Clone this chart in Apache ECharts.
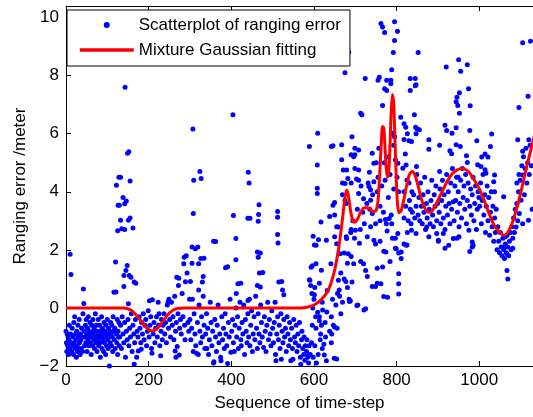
<!DOCTYPE html>
<html>
<head>
<meta charset="utf-8">
<script src="https://cdn.jsdelivr.net/npm/echarts@6/dist/echarts.min.js"></script>
<style>
  html, body { margin: 0; padding: 0; background: #fff; }
  #chart { width: 533px; height: 417px; }
</style>
</head>
<body>
<div id="chart"></div>
<script>
// ranging error samples, [time-step, error in meter]
const errEarly = [
  [0,-0.8],[1,-1.2],[2,-1.5],[3,-0.9],[4,-1.3],[5,-1.0],[6,-1.6],[7,-1.1],[8,-0.6],[9,-1.4],[10,1.85],[11,-0.9],
  [12,1.15],[13,-1.2],[14,-1.5],[15,-0.7],[16,-1.3],[17,-1.0],[18,-1.6],[19,-0.5],[20,-1.2],[21,-0.3],[22,-1.4],
  [23,-0.9],[24,-1.1],[25,-1.7],[26,-0.8],[27,-1.3],[28,-1.5],[29,-0.6],[30,-1.0],[31,-1.4],[32,-0.4],[33,-1.2],
  [34,-1.6],[35,-0.9],[36,-1.1],[37,-1.4],[38,-0.7],[39,-1.0],[40,-1.5],[41,-0.2],[42,0.65],[43,0.15],[44,-0.8],
  [45,-1.3],[46,-1.0],[47,-0.6],[48,-1.2],[49,-0.4],[50,-0.9],[51,-1.5],[52,-0.7],[53,-1.1],[54,-0.3],[55,-1.3],
  [56,-0.8],[57,-1.0],[58,-0.5],[59,-1.2],[60,-0.9],[61,-1.6],[62,-0.6],[63,-1.0],[64,-1.3],[65,-0.4],[66,-0.8],
  [67,-1.1],[68,-0.7],[69,-1.4],[70,-0.9],[71,-0.2],[72,-1.2],[73,-0.6],[74,-1.0],[75,-1.5],[76,-0.8],[77,-1.1],
  [78,-0.4],[79,-1.3],[80,-0.9],[81,-0.6],[82,-1.2],[83,-1.7],[84,-0.8],[85,-1.0],[86,-0.3],[87,-1.4],[88,-0.7],
  [89,-1.1],[90,-0.9],[91,-1.5],[92,-0.5],[93,-1.2],[94,-0.8],[95,-1.0],[96,-1.6],[97,-0.6],[98,-1.3],[99,-0.9],
  [100,-0.4],[101,-1.1],[102,-1.4],[103,-0.7],[104,-1.0],[105,-2.0],[106,-0.8],[107,-1.2],[108,-0.5],[109,-0.9],
  [110,-1.3],[111,-0.6],[112,-1.0],[113,-1.5],[114,-0.3],[115,-0.8],[116,0.54],[117,-1.1],[118,-0.7],[119,-1.4],
  [120,1.58],[121,0.55],[122,-0.9],[123,-1.2],[124,-0.4],[125,-1.6],[126,-0.8],[127,-1.0],[128,-0.5],[129,-1.3]
];

const errSpikes = [
  [122,4.23],[126,3.54],[125,2.66],[128,4.5],[129,3.54],[132,4.5],[132,3.02],[135,2.73],[138,3.8],[140,1.12],
  [140,0.74],[143,7.6],[142,3.59],[142,2.7],[145,1.29],[146,3.68],[148,1.46],[149,5.33],[151,3.02],[152,5.38],
  [153,1.12],[155,3.1],[155,4.37],[157,1.06],[162,2.75],[165,0.89],[151,0.14]
];

const errDip = [
  [130,-1.0],[132,-0.6],[134,-1.4],[136,-0.3],[138,-0.9],[140,-1.2],[142,-0.5],[144,-1.7],[146,-0.8],[148,-1.1],
  [150,-0.4],[152,-1.3],[154,-0.7],[156,-1.0],[158,-0.2],[160,-1.5],[162,-0.6],[164,-0.9],[165,-1.94],[166,-1.2],
  [168,-0.4],[169,0.85],[171,-1.7],[172,-0.8],[174,-1.0],[175,-1.48],[177,-0.3],[179,-0.7],[181,-1.2],[182,-1.42],
  [183,-0.5],[185,-0.9],[187,-0.2],[189,-1.1],[191,-0.6],[193,-0.4],[195,-1.3],[197,-0.8],[199,-0.1],[201,-1.0],
  [202,0.25],[203,-0.6],[205,-0.3],[207,-1.4],[208,-1.56],[209,0.28],[211,-0.9],[213,-0.5],[215,-1.2],[217,-0.7],
  [219,-0.3],[221,-1.0],[223,0.2],[224,-0.6],[225,-0.2],[227,-1.3],[229,-1.65],[230,-0.8],[231,-0.4],[233,-1.1],
  [235,-0.6],[237,-0.2],[239,-0.9],[241,-0.5],[243,-1.2],[245,0.1],[247,0.2],[248,-0.7],[249,0.3],[251,-0.4],
  [253,-1.0],[255,0.2],[257,-0.6],[259,-0.3],[261,-1.1],[263,0.4],[264,-1.48],[265,-0.8],[266,-1.7],[267,-0.5],
  [268,1.06],[269,-1.33],[271,-0.2],[272,0.77],[273,1.02],[274,-1.62],[275,-0.7],[277,-0.4],[279,-0.9],[281,0.5],
  [283,-0.3],[285,1.52],[286,1.75],[287,-0.6],[288,-1.1],[289,0.9],[291,1.8],[293,1.2],[295,-0.5],[297,-0.8],[299,0.3]
];

const errFlat = [
  [301,0.91],[305,2.1],[305,1.54],[307,6.16],[308,3.25],[309,4.4],[313,2.04],[319,2.1],[321,1.52],[321,0.62],
  [324,4.7],[326,1.7],[327,4.46],[330,0.89],[332,1.08],[334,1.71],[357,2.3],[362,2.29],[386,1.38],[391,1.42],
  [405,3.18],[404,6.65],[411,2.39],[411,1.66],[416,0.83],[423,0.85],[441,4.67],[443,4.3],[440,3.09],[445,3.09],
  [467,3.55],[466,3.22],[465,2.99],[463,1.93],[465,1.75],[468,1.2],[463,0.77],[470,1.89],[470,0.72],[476,1.22],
  [512,3.32],[512,3.12],[512,2.53],[513,2.24],[515,0.89],[522,0.91],[524,0.62],[527,0.45],[412,0.5],[440,0.26],
  [300,-0.4],[302,-1.1],[304,-0.7],[306,0.3],[308,-1.5],[310,-0.2],[312,-0.9],[314,-1.3],[316,-1.56],[318,-0.5],
  [320,-1.6],[322,0.1],[324,-0.8],[326,-1.2],[328,-0.3],[330,-1.0],[332,0.4],[334,-0.6],[336,-1.4],[338,-0.9],
  [340,-0.2],[341,-1.4],[343,-0.7],[345,-1.6],[347,-1.1],[349,0.2],[351,-0.5],[353,-1.3],[355,-0.8],[357,-1.9],
  [358,-1.85],[360,-0.4],[362,-1.0],[364,-1.5],[366,-0.6],[368,0.1],[370,-1.2],[372,-0.9],[374,-1.7],[375,-1.82],
  [377,-0.3],[379,-1.1],[381,-0.7],[383,-1.4],[385,-0.2],[387,-0.9],[389,-1.3],[391,-1.91],[393,-0.5],[395,-1.0],
  [397,0.3],[399,-1.53],[401,-0.8],[403,-0.4],[405,-1.2],[407,-1.5],[409,-0.6],[411,0.0],[413,-1.0],[415,-0.3],
  [417,-1.4],[419,-0.7],[421,0.2],[423,-1.1],[424,-1.3],[426,-0.5],[428,-0.9],[430,0.1],[432,-1.6],[434,-0.4],
  [436,-0.8],[438,-1.2],[440,-0.2],[442,-1.0],[444,0.3],[445,-1.3],[447,-0.6],[449,-0.1],[451,-1.5],[453,-0.9],
  [455,-0.3],[457,-1.1],[459,0.4],[461,-0.7],[463,-1.4],[465,-0.2],[467,-0.9],[469,-1.2],[471,0.1],[473,-0.5],
  [475,-1.0],[478,-1.36],[480,-0.3],[482,-0.8],[484,-1.5],[486,-0.6],[488,0.2],[490,-1.1],[492,-0.4],[494,-0.9],
  [496,-1.3],[498,-0.1],[500,-0.7],[502,-1.2],[504,-0.5],[506,0.2],[507,-1.6],[508,-1.82],[510,-0.9],[512,-0.3],
  [514,-1.1],[516,-0.6],[518,-1.4],[520,-0.2],[521,-1.77],[523,-0.8],[525,-1.2],[527,-0.4],[529,-1.0],[531,-0.7],
  [533,-1.5],[535,-0.3],[537,-0.9],[539,-1.3],[541,-0.5],[543,-1.1],[544,-1.82],[546,-0.7],[548,-1.4],[549,-1.77],
  [551,-0.4],[553,-1.0],[555,-1.2],[557,-0.6],[559,-1.5],[561,-0.9],[563,-1.3],[565,-0.5],[567,-1.7],[568,-1.94],
  [570,-1.1],[571,-0.8],[573,-1.4],[575,-1.6],[576,-1.0],[578,-1.8],[579,-1.3],[581,-2.05],[582,-1.5],[583,-1.1],
  [585,-1.7],[586,-1.62],[587,-1.9],[588,-1.3],[590,-2.02],[591,-1.6]
];

const errRise = [
  [589,5.56],[590,0.95],[593,1.4],[596,1.45],[605,1.52],[609,6.02],[608,4.92],[608,4.12],[608,3.94],[598,2.47],
  [611,2.35],[605,2.16],[592,0.77],[595,0.5],[589,0.97],[600,0.3],[602,0.7],[597,0.0],[604,-0.3],[609,-0.15],
  [601,0.45],[613,0.85],[613,-0.44],[605,-0.7],[616,-0.9],[617,2.96],[618,1.3],[618,-0.6],[620,0.2],[621,-0.07],
  [613,-0.3],[624,-1.25],[625,-1.62],[627,-0.5],[628,-1.0],[630,2.33],[630,-1.82],[632,0.6],[620,-1.4],[615,-1.1],
  [610,-1.6],[606,-1.9],[602,-1.3],[598,-1.7],[594,-1.2],[596,-0.6],[631,-0.14],[638,-0.8],[641,1.52],[642,5.56],
  [643,-0.9],[645,0.3],[646,3.54],[646,5.59],[647,-0.6],[650,3.2],[650,3.63],[642,-0.3],[642,-1.2],[653,0.1],
  [655,2.21],[655,-1.76],[656,-0.7],[659,2.79],[659,0.95],[649,-1.73],[650,-0.66],[650,2.45],[638,3.15],[662,0.4],
  [663,1.87],[665,-0.2],[667,5.1],[667,5.62],[657,0.5],[669,0.2],[671,4.75],[661,0.62],[673,1.0],[675,4.29],
  [675,3.71],[665,1.2],[669,4.3],[669,3.9],[675,8.1],[679,4.75],[679,2.39],[681,0.7],[684,8.81],[683,1.87],
  [673,1.89],[685,0.3],[677,0.91],[688,0.25],[689,2.6],[681,1.54],[692,5.9],[692,0.89],[694,3.0],[696,5.21],
  [696,1.52],[686,0.22],[698,2.4],[700,2.68],[690,1.77],[690,5.28],[699,5.5],[699,5.28],[699,4.8],[703,4.44],
  [690,4.3],[682,4.46],[678,3.6],[678,2.45],[690,2.7],[655,2.8],[601,2.17],[706,0.1],[704,0.08],[708,5.44],
  [708,4.75],[708,4.4],[708,3.94],[716,6.65],[713,6.71],[710,2.23],[714,4.2],[720,3.76],[720,1.52],[713,1.6],
  [721,-0.07],[725,1.29],[725,-0.03]
];

const errPeak = [
  [724,7.9],[729,1.08],[729,2.45],[731,4.3],[733,4.18],[734,4.67],[737,3.71],[737,4.07],[737,2.8],[741,3.25],
  [741,0.74],[741,5.33],[745,2.33],[745,4.98],[745,4.35],[749,2.2],[749,2.9],[749,0.74],[751,5.0],[753,4.0],
  [753,1.37],[753,0.85],[755,4.5],[755,7.84],[758,7.95],[762,9.8],[766,9.68],[771,9.49],[766,6.97],[771,7.55],
  [776,7.49],[776,7.84],[762,0.83],[766,1.41],[769,0.39],[769,1.95],[773,3.05],[774,1.93],[777,2.65],[778,0.37],
  [782,3.08],[786,7.84],[786,7.72],[788,8.2],[792,8.8],[795,9.86],[795,9.21],[802,9.53],[790,6.02],[795,5.9],
  [793,5.6],[797,5.1],[797,2.4],[797,2.06],[799,2.04],[801,4.5],[803,4.98],[803,2.56],[805,1.89],[805,1.18],
  [805,0.83],[805,0.48],[805,4.0],[810,6.57],[811,1.93],[811,1.7],[815,4.81],[818,6.34],[818,5.8],[822,6.22],
  [818,2.2],[818,3.1],[818,4.0],[821,5.3],[823,4.92],[825,2.17],[826,2.6],[826,6.0],[830,4.3],[830,5.76],
  [833,3.4],[833,7.9],[833,7.49],[837,4.0],[843,6.65],[845,7.9],[846,6.22],[847,7.69],[849,6.17],[852,8.8],
  [760,3.5],[764,4.2],[768,3.3],[772,4.4],[775,2.9],[780,3.8],[784,4.6],[787,3.2],[790,2.4],[793,4.1],
  [780,5.2],[770,5.0],[757,5.5],[760,3.0],[735,3.4],[742,3.9],[728,3.6],[722,2.9],[718,3.3],[712,2.7],
  [705,3.4],[760,2.3],[784,1.6],[788,2.9],[822,3.5],[825,4.4],[828,3.0],[831,3.7],[835,2.9],[838,3.3],
  [841,3.9],[844,3.1],[847,3.5],[849,4.6],[836,5.73],[848,4.87],[823,2.16],[836,2.68],[847,2.56]
];

const errLate = [
  [845,7.65],[855,6.14],[847,6.0],[878,5.79],[878,5.47],[920,8.3],[950,8.55],[955,8.15],[971,8.38],[974,7.55],
  [952,7.41],[946,7.26],[944,7.1],[948,6.97],[978,6.96],[952,6.71],[917,6.29],[921,6.11],[944,6.21],[934,6.02],
  [977,6.11],[904,5.6],[944,5.62],[954,5.56],[929,5.41],[933,5.31],[994,5.76],[1030,5.99],[1027,5.56],[1014,5.3],
  [1006,5.2],[1021,5.2],[969,5.24],[971,5.01],[996,4.93],[1004,4.87],[1014,4.76],[1016,4.64],[1035,4.35],[1037,4.0],
  [1037,4.58],[1059,3.83],[1063,2.45],[1067,1.87],[1067,1.29],[1069,1.0],[1059,2.1],[1093,5.79],[1105,9.13],
  [1096,6.9],[1118,7.29],[1120,5.79],[1096,4.6],[1105,5.4],[1091,4.3],[904,4.7],[949,4.5],[1124,9.19],
  [917,2.06],[901,2.3],[946,2.4],[977,1.94],[985,2.16],[983,2.27],[983,2.1],[926,2.16],[913,2.56],[951,2.45],
  [937,2.39],[1081,2.06],[1105,2.9],[897,2.56],[901,2.33],[878,2.45],[873,2.79],
  [852,3.2],[854,3.8],[856,3.0],[858,4.3],[860,3.5],[862,2.9],[864,3.9],[866,3.3],[868,4.5],[870,2.7],
  [872,3.6],[874,3.1],[876,4.0],[879,3.4],[881,2.9],[883,3.7],[885,4.4],[887,3.2],[889,2.8],[891,3.9],
  [893,3.5],[895,4.2],[897,3.0],[899,3.6],[903,3.3],[905,4.1],[907,2.9],[909,3.7],[911,4.4],[913,3.1],
  [915,3.9],[917,2.7],[919,3.5],[921,4.6],[923,3.2],[925,4.0],[927,3.6],[929,2.9],[931,4.3],[933,3.4],
  [935,4.8],[937,3.66],[939,3.0],[941,4.2],[943,3.7],[945,4.5],[947,3.3],[949,4.0],[951,2.8],[953,3.6],
  [955,4.4],[957,3.1],[959,4.8],[961,3.8],[963,4.2],[965,3.4],[967,4.6],[969,2.9],[971,3.7],[973,4.3],
  [975,2.68],[977,3.5],[979,4.1],[981,3.2],[983,3.9],[985,4.5],[987,3.0],[989,3.6],[991,4.2],[993,2.7],
  [995,3.4],[997,4.0],[999,3.8],[1001,3.5],[1003,4.3],[1005,2.9],[1007,3.7],[1009,4.6],[1011,3.2],[1013,3.9],
  [1015,2.6],[1017,3.5],[1019,4.2],[1021,3.0],[1023,3.8],[1025,2.5],[1027,3.3],[1029,4.0],[1031,2.8],[1033,3.5],
  [1035,2.3],[1037,3.1],[1039,2.6],[1041,3.4],[1043,2.0],[1045,2.8],[1047,2.3],[1049,1.9],[1051,2.6],[1053,2.1],
  [1055,1.8],[1057,2.4],[1059,2.0],[1061,1.7],[1063,2.2],[1065,1.9],[1067,2.5],[1069,2.1],[1071,1.8],[1073,2.3],
  [1075,2.6],[1077,2.0],[1079,2.8],[1081,2.4],[1083,3.1],[1085,2.6],[1087,3.4],[1089,2.79],[1091,3.6],[1093,3.0],
  [1095,4.0],[1097,3.25],[1099,4.4],[1101,3.71],[1103,4.9],[1105,4.58],[1107,5.21],[1109,3.9],[1111,4.8],[1113,5.5],
  [1115,4.3],[1117,5.0],[1119,3.02],[1121,4.6],[1123,5.6],[1126,4.9],[1128,3.4]
];

// mixture gaussian fit curve
const fitStep = [0,140,150,160,170,180,190,200,210,220,230,240,250,260,270,285,570,585,600,615,630,640,650,658,665,670,
  675,679,683,688,693,698,705,713,722,732,742,750,755,759,763,766,769,772,775,778,781,784,787,790,793,796,799,802,806,
  811,817,824,831,838,845,852,860,868,876,884,893,903,915,928,942,958,972,986,1000,1012,1025,1038,1050,1060,1068,1076,
  1084,1092,1100,1108,1116,1124,1132,1140];
const fitValue = [0,0,-0.03,-0.1,-0.25,-0.42,-0.6,-0.74,-0.79,-0.72,-0.55,-0.35,-0.18,-0.07,-0.02,0,0,0.03,0.1,0.25,0.5,
  0.8,1.3,1.9,2.6,3.2,3.8,4.05,3.9,3.4,3.05,2.95,3.05,3.3,3.45,3.45,3.32,3.35,3.7,4.6,5.7,6.25,6.2,5.5,4.8,4.5,4.7,5.6,
  6.8,7.35,7.0,5.8,4.5,3.6,3.28,3.35,3.7,4.2,4.6,4.7,4.55,4.2,3.75,3.45,3.3,3.32,3.5,3.8,4.15,4.5,4.72,4.8,4.72,4.45,
  4.1,3.7,3.2,2.8,2.6,2.5,2.58,2.8,3.1,3.5,3.95,4.45,4.95,5.4,5.85,6.3];

const font = 'Liberation Sans, Arial, Helvetica, sans-serif';
const scatterPts = [].concat(errEarly, errSpikes, errDip, errFlat, errRise, errPeak, errLate);
const fitPts = fitStep.map(function (s, i) { return [s, fitValue[i]]; });

const chart = echarts.init(document.getElementById('chart'));
const option = {
  animation: false,
  backgroundColor: '#fff',
  grid: { left: 66, right: 0, top: 6, bottom: 51 },
  legend: {
    left: 67, top: 10, orient: 'vertical',
    padding: [6, 9, 7, 11], itemGap: 7, itemWidth: 54, itemHeight: 6,
    backgroundColor: '#fff', borderColor: '#000', borderWidth: 1,
    selectedMode: false,
    textStyle: { fontSize: 17, color: '#000', lineHeight: 18, fontFamily: font },
    data: [
      { name: 'Scatterplot of ranging error' },
      { name: 'Mixture Gaussian fitting', itemStyle: { opacity: 0 }, lineStyle: { width: 3.5 } }
    ]
  },
  xAxis: [
    {
      type: 'value', min: 0, max: 1130, interval: 200, position: 'bottom',
      axisLine: { onZero: false, lineStyle: { color: '#000', width: 1 } },
      axisTick: { inside: true, length: 5, lineStyle: { color: '#000' } },
      axisLabel: {
        color: '#000', fontSize: 17, margin: 6, fontFamily: font, showMaxLabel: false,
        formatter: function (v) { return String(v); }
      },
      splitLine: { show: false },
      name: 'Sequence of time-step', nameLocation: 'middle', nameGap: 29,
      nameTextStyle: { color: '#000', fontSize: 17, fontFamily: font }
    },
    {
      type: 'value', min: 0, max: 1130, interval: 200, position: 'top',
      axisLine: { onZero: false, lineStyle: { color: '#000', width: 1 } },
      axisTick: { inside: true, length: 5, lineStyle: { color: '#000' } },
      axisLabel: { show: false },
      splitLine: { show: false }
    }
  ],
  yAxis: {
    type: 'value', min: -2, max: 10.4, interval: 2,
    axisLine: { show: true, onZero: false, lineStyle: { color: '#000', width: 1 } },
    axisTick: { show: true, inside: true, length: 5, lineStyle: { color: '#000' } },
    axisLabel: {
      color: '#000', fontSize: 17, margin: 7, fontFamily: font, showMaxLabel: false,
      formatter: function (v) { return v < 0 ? '\u2212' + (-v) : String(v); }
    },
    splitLine: { show: false },
    name: 'Ranging error /meter', nameLocation: 'middle', nameGap: 32,
    nameTextStyle: { color: '#000', fontSize: 17, fontFamily: font }
  },
  series: [
    {
      name: 'Scatterplot of ranging error',
      type: 'scatter',
      symbol: 'circle',
      symbolSize: 5,
      itemStyle: { color: '#0000ff', opacity: 1 },
      data: scatterPts
    },
    {
      name: 'Mixture Gaussian fitting',
      type: 'line',
      symbol: 'none',
      smooth: 0.3,
      lineStyle: { color: '#ff0000', width: 3 },
      itemStyle: { color: '#ff0000' },
      data: fitPts
    }
  ]
};
chart.setOption(option);
</script>
</body>
</html>
